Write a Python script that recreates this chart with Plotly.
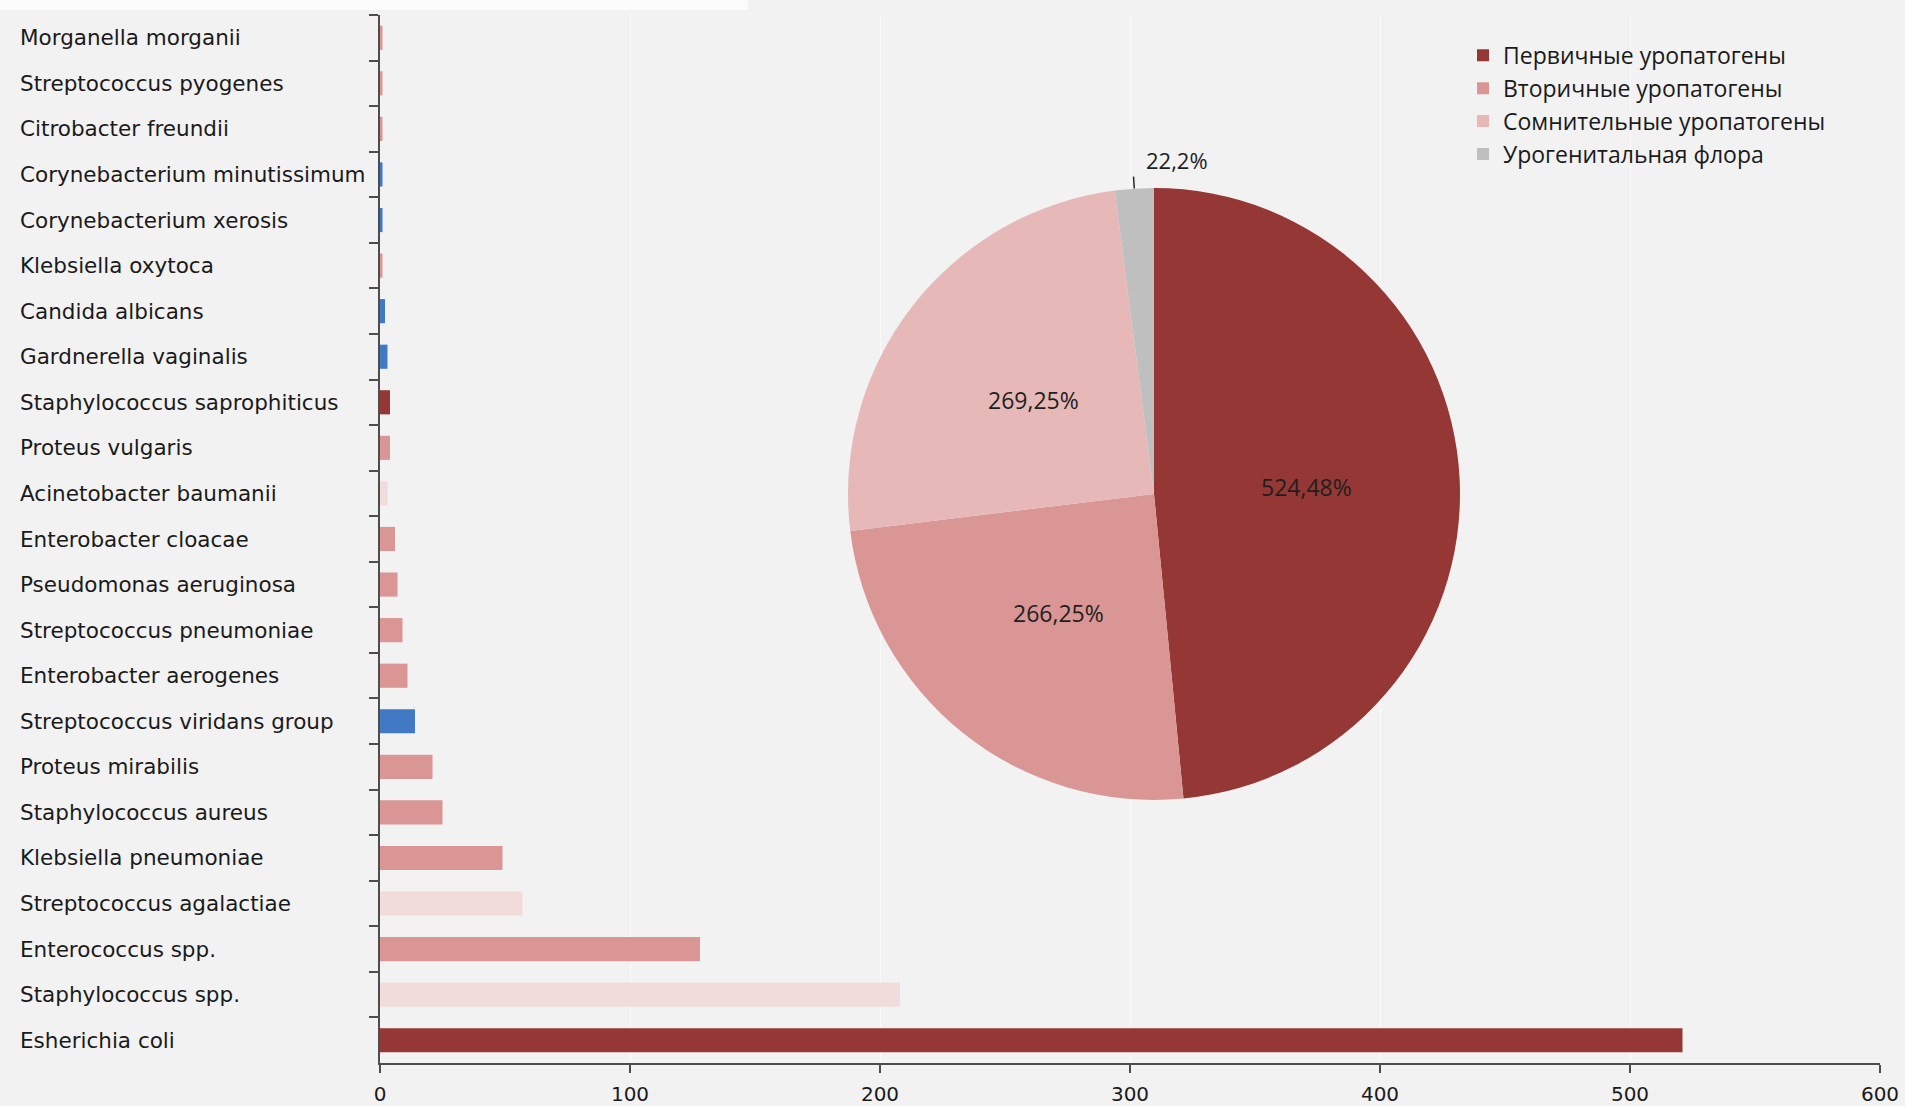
import math
import plotly.graph_objects as go

# ---- data -------------------------------------------------------------
species = [
    "Morganella morganii", "Streptococcus pyogenes", "Citrobacter freundii",
    "Corynebacterium minutissimum", "Corynebacterium xerosis", "Klebsiella oxytoca",
    "Candida albicans", "Gardnerella vaginalis", "Staphylococcus saprophiticus",
    "Proteus vulgaris", "Acinetobacter baumanii", "Enterobacter cloacae",
    "Pseudomonas aeruginosa", "Streptococcus pneumoniae", "Enterobacter aerogenes",
    "Streptococcus viridans group", "Proteus mirabilis", "Staphylococcus aureus",
    "Klebsiella pneumoniae", "Streptococcus agalactiae", "Enterococcus spp.",
    "Staphylococcus spp.", "Esherichia coli",
]
counts = [1, 1, 1, 1, 1, 1, 2, 3, 4, 4, 3, 6, 7, 9, 11, 14, 21, 25, 49, 57, 128, 208, 521]
groups = [
    "sec", "sec", "sec", "flora", "flora", "sec",
    "flora", "flora", "prim", "sec", "doubt", "sec",
    "sec", "sec", "sec", "flora", "sec", "sec",
    "sec", "doubt", "sec", "doubt", "prim",
]

pie_labels = ["Первичные уропатогены", "Вторичные уропатогены",
              "Сомнительные уропатогены", "Урогенитальная флора"]
pie_values = [524.48, 266.25, 269.25, 22.2]

x_ticks = [0, 100, 200, 300, 400, 500, 600]

# ---- styling ----------------------------------------------------------
bar_colors = {"prim": "#953735", "sec": "#D99694", "doubt": "#F2DCDB", "flora": "#4279C4"}
pie_colors = ["#953735", "#D99694", "#E6B9B8", "#BFBFBF"]
BG = "#F2F2F2"
AXIS = "#4D4D4D"
PIE_FONT = dict(family="Open Sans", size=23, color="#1F1F1F")

W, H = 1905, 1106
ML, MR, MT, MB = 380, 25, 15, 43
PW, PH = W - ML - MR, H - MT - MB

pie_dx = [0.312, 0.72]
pie_dy = [0.251, 0.835]

fig = go.Figure()

fig.add_trace(go.Bar(
    x=counts, y=species, orientation="h",
    marker=dict(color=[bar_colors[g] for g in groups], line=dict(width=0)),
    width=0.53, showlegend=False, hoverinfo="x+y",
))

fig.add_trace(go.Pie(
    labels=pie_labels, values=pie_values,
    textinfo="none",
    marker=dict(colors=pie_colors, line=dict(width=0)),
    sort=False, direction="clockwise", rotation=0,
    domain=dict(x=pie_dx, y=pie_dy),
    showlegend=True,
))

# slice labels, placed along each slice's bisector (clockwise from 12 o'clock)
def fmt(v):
    return f"{v:g}".replace(".", ",") + "%"

total = sum(pie_values)
cx = ML + PW * sum(pie_dx) / 2
cy = MT + PH * (1 - sum(pie_dy) / 2)
r = min(PW * (pie_dx[1] - pie_dx[0]), PH * (pie_dy[1] - pie_dy[0])) / 2

def to_paper(px, py):
    return (px - ML) / PW, 1 - (py - MT) / PH

def polar(theta, dist):
    return to_paper(cx + dist * math.sin(theta), cy - dist * math.cos(theta))

cum = 0.0
for i, v in enumerate(pie_values):
    theta = 2 * math.pi * (cum + v / 2) / total
    cum += v
    if i < len(pie_values) - 1:
        xp, yp = polar(theta, 0.5 * r)
        fig.add_annotation(xref="paper", yref="paper", x=xp, y=yp, text=fmt(v),
                           showarrow=False, xanchor="center", yanchor="middle", font=PIE_FONT)
    else:
        # thin slice: label outside with a short leader line
        x0p, y0p = polar(theta, r)
        x1p, y1p = polar(theta, r + 12)
        fig.add_shape(type="line", xref="paper", yref="paper",
                      x0=x0p, y0=y0p, x1=x1p, y1=y1p,
                      line=dict(color="#262626", width=1.5))
        fig.add_annotation(xref="paper", yref="paper", x=x1p, y=y1p, text=fmt(v),
                           showarrow=False, xanchor="left", yanchor="bottom", xshift=10,
                           font=dict(PIE_FONT, size=22))

# left-aligned category names
for name in species:
    fig.add_annotation(xref="paper", yref="y", x=(18 - ML) / PW, y=name, text=name,
                       showarrow=False, xanchor="left", yanchor="middle",
                       font=dict(family="DejaVu Sans", size=21.5, color="#1A1A1A"))

# pale strip along the top-left edge
fig.add_shape(type="rect", xref="paper", yref="paper", layer="below",
              x0=-ML / PW, x1=(748 - ML) / PW, y0=1 + (MT - 10) / PH, y1=1 + MT / PH,
              fillcolor="#FCFCFC", line=dict(width=0))

fig.update_layout(
    width=W, height=H,
    margin=dict(l=ML, r=MR, t=MT, b=MB, autoexpand=False),
    paper_bgcolor=BG, plot_bgcolor=BG,
    bargap=0.47,
    xaxis=dict(range=[0, 600], tickvals=x_ticks, ticks="outside", ticklen=8,
               tickwidth=1.5, tickcolor=AXIS, showline=True, linecolor=AXIS, linewidth=1.5,
               showgrid=True, gridcolor="#FAFAFA", gridwidth=1, zeroline=False,
               automargin=False, ticklabelstandoff=4,
               tickfont=dict(family="DejaVu Sans", size=20, color="#1A1A1A"), fixedrange=True),
    yaxis=dict(categoryorder="array", categoryarray=species, autorange="reversed",
               ticks="outside", tickson="boundaries", ticklen=9, tickwidth=1.5,
               tickcolor=AXIS, showline=True, linecolor=AXIS, linewidth=1.5,
               automargin=False,
               showticklabels=False, showgrid=False, zeroline=False, fixedrange=True),
    legend=dict(x=(1463 - ML) / PW, y=0.982, xanchor="left", yanchor="top",
                bgcolor="rgba(0,0,0,0)", borderwidth=0,
                font=dict(family="Open Sans", size=23, color="#1A1A1A"),
                itemclick=False, itemdoubleclick=False),
)

fig.write_html("out.html")
